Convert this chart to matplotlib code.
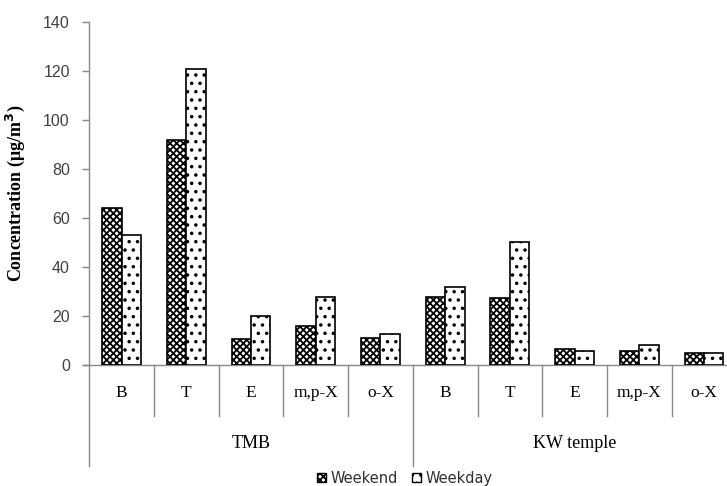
import matplotlib
matplotlib.use("Agg")
import matplotlib.pyplot as plt
import matplotlib.transforms as mtransforms
from matplotlib.patches import Patch
import numpy as np

sites = ["TMB", "KW temple"]
compounds = ["B", "T", "E", "m,p-X", "o-X"]
weekend = [64, 92, 10.7, 16, 11, 27.8, 27.2, 6.4, 5.8, 5.1]
weekday = [53, 121, 20, 27.8, 12.6, 31.9, 50.3, 5.8, 8.2, 4.7]
yticks = [0, 20, 40, 60, 80, 100, 120, 140]

plt.rcParams['hatch.linewidth'] = 1.3
fig = plt.figure(figsize=(7.27, 4.86), dpi=100)
ax = fig.add_axes([89.3/727, 121/486, 647/727, 343/486])

n = len(weekend)
x = np.arange(n)
w = 0.3
ax.bar(x - w/2, weekend, width=w, color="white", edgecolor="black",
       hatch="xxxxx", linewidth=1.2, zorder=3)
ax.bar(x + w/2, weekday, width=w, color="white", edgecolor="black",
       hatch="..", linewidth=1.2, zorder=3)

ax.set_xlim(-0.5, n - 0.5)
ax.set_ylim(0, 140)
ax.set_yticks(yticks)
ax.set_yticklabels([str(t) for t in yticks], family="Liberation Sans",
                   fontsize=11.5, color="#404040")
ax.tick_params(axis="y", length=5, color="#888888", width=1, pad=9)
ax.set_xticks([])
for s in ["top", "right"]:
    ax.spines[s].set_visible(False)
ax.spines["left"].set_color("#888888")
ax.spines["bottom"].set_color("#888888")
ax.spines["left"].set_linewidth(1)
ax.spines["bottom"].set_linewidth(1)
ax.spines["bottom"].set_bounds(-0.5 - 6/64.7, n - 0.5)

ax.set_ylabel("Concentration (μg/m$^\\mathbf{3}$)", family="Liberation Serif",
              fontweight="bold", fontsize=13)
ax.yaxis.set_label_coords(-(89.3 - 27) / 647, 0.5)

trans = mtransforms.blended_transform_factory(ax.transData, ax.transAxes)
lvl1 = -(416 - 365) / 343
lvl2 = -(466 - 365) / 343
for i in range(1, n):
    if i % len(compounds) == 0:
        ax.plot([i - 0.5, i - 0.5], [0, lvl2], transform=trans, color="#888888",
                lw=1, clip_on=False)
    else:
        ax.plot([i - 0.5, i - 0.5], [0, lvl1], transform=trans, color="#888888",
                lw=1, clip_on=False)
ax.plot([-0.5, -0.5], [0, lvl2], transform=trans, color="#888888", lw=1, clip_on=False)

lab_y = -(393 - 365) / 343
grp_y = -(443 - 365) / 343
for i in range(n):
    ax.text(i, lab_y, compounds[i % len(compounds)], transform=trans,
            ha="center", va="center", family="Liberation Serif", fontsize=12.5)
for g, name in enumerate(sites):
    c = g * len(compounds) + (len(compounds) - 1) / 2
    ax.text(c, grp_y, name, transform=trans, ha="center", va="center",
            family="Liberation Serif", fontsize=13)

handles = [Patch(facecolor="white", edgecolor="black", hatch="xxxxx", label="Weekend"),
           Patch(facecolor="white", edgecolor="black", hatch="..", label="Weekday")]
fig.legend(handles=handles, loc="center", bbox_to_anchor=(405/727, 1 - 478/486),
           ncol=2, frameon=False, prop={"family": "DejaVu Sans", "size": 10.5},
           handlelength=0.6, handleheight=0.6, handletextpad=0.3, columnspacing=1.0,
           labelcolor="#303030")

fig.savefig("out.png", dpi=100)
